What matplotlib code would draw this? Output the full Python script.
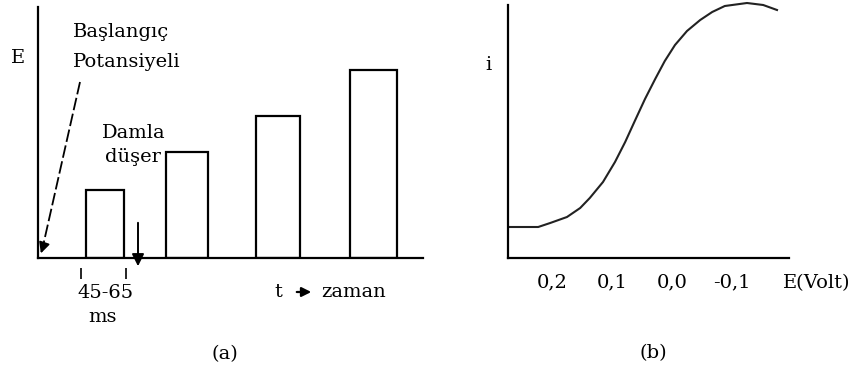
import matplotlib.pyplot as plt
import numpy as np

# (a) potential steps vs time (arbitrary units)
bar_left = [48, 128, 218, 312]
bar_right = [86, 170, 262, 359]
bar_height = [68, 106, 142, 188]
drop_window = [43, 88]

# (b) polarogram: current vs potential (volt)
E_volt = [0.273, 0.223, 0.203, 0.175, 0.153, 0.137, 0.115, 0.095, 0.078, 0.062,
          0.045, 0.028, 0.012, -0.005, -0.025, -0.047, -0.067, -0.088, -0.125,
          -0.152, -0.175]
i_curr = [31, 31, 35, 41, 50, 60, 76, 96, 116, 137,
          159, 179, 197, 213, 227, 238, 246, 252, 255,
          253, 248]
E_ticks = [0.2, 0.1, 0.0, -0.1]
E_ticklabels = ['0,2', '0,1', '0,0', '-0,1']

plt.rcParams['font.family'] = ['DejaVu Serif']
FS = 14
W, H = 856, 376

fig = plt.figure(figsize=(W / 100, H / 100), dpi=100)


def px(x, y):
    return x / W, 1 - y / H


def txt(x, y, s, **kw):
    fig.text(*px(x, y), s, fontsize=FS, ha='center', va='center', **kw)


def clean(ax):
    for s in ['top', 'right']:
        ax.spines[s].set_visible(False)
    for s in ['left', 'bottom']:
        ax.spines[s].set_linewidth(1.6)
    ax.set_yticks([])


# ---- panel (a)
ax = fig.add_axes([38 / W, (H - 258) / H, 385 / W, 251 / H])
clean(ax)
ax.set_xticks([])
ax.set_xlim(0, 385)
ax.set_ylim(0, 251)
widths = np.array(bar_right) - np.array(bar_left)
ax.bar(bar_left, bar_height, width=widths, align='edge',
       facecolor='white', edgecolor='black', linewidth=1.6)

# dashed pointer to the starting potential
ax.plot([42, 5], [176, 12], color='black', lw=1.3, dashes=(7, 2), clip_on=False)
ax.annotate('', xy=(2, 2), xytext=(6, 14),
            arrowprops=dict(arrowstyle='-|>', color='black', lw=1.3,
                            mutation_scale=16), annotation_clip=False)

# drop falls arrow
ax.annotate('', xy=(100, -11), xytext=(100, 38),
            arrowprops=dict(arrowstyle='-|>', color='black', lw=1.4,
                            mutation_scale=18), annotation_clip=False)

ax.vlines(drop_window, -10, -21, color='black', lw=1.2, clip_on=False)

txt(18, 58, 'E')
fig.text(*px(73, 32), 'Başlangıç', fontsize=FS, ha='left', va='center')
fig.text(*px(73, 62), 'Potansiyeli', fontsize=FS, ha='left', va='center')
txt(134, 133, 'Damla')
txt(133, 157, 'düşer')
txt(106, 293, '45-65')
txt(103, 317, 'ms')
txt(278, 292, 't')
fig.text(*px(354, 292), 'zaman', fontsize=FS, ha='center', va='center')
ax.annotate('', xy=px(314, 292), xytext=px(294, 292), xycoords='figure fraction',
            textcoords='figure fraction',
            arrowprops=dict(arrowstyle='-|>', color='black', lw=1.6,
                            mutation_scale=14))
txt(225, 354, '(a)')

# ---- panel (b)
bx = fig.add_axes([508 / W, (H - 258) / H, 281 / W, 253 / H])
clean(bx)
bx.set_xlim(0.2733, -0.195)
bx.set_ylim(0, 253)
bx.plot(E_volt, i_curr, color='#222222', lw=1.5, clip_on=False)
bx.set_xticks(E_ticks)
bx.set_xticklabels(E_ticklabels, fontsize=FS)
bx.tick_params(axis='x', length=0, pad=11)

txt(488, 65, 'i')
txt(817, 283, 'E(Volt)')
txt(653, 353, '(b)')

fig.savefig('out.png', dpi=100, facecolor='white')
